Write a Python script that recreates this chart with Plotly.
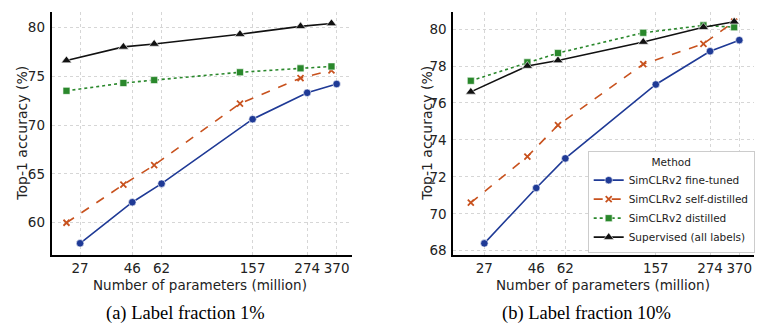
import plotly.graph_objects as go

# ---- data ----
tick_vals = [27, 46, 62, 157, 274, 370]
tick_text = ["27", "46", "62", "157", "274", "370"]
x_finetuned = [27, 46, 62, 157, 274, 370]
x_other = [23.5, 42, 57.5, 138, 256, 351]

names = ["SimCLRv2 fine-tuned", "SimCLRv2 self-distilled", "SimCLRv2 distilled", "Supervised (all labels)"]

# Label fraction 1%
a_finetuned = [57.9, 62.1, 64.0, 70.6, 73.3, 74.2]
a_selfdist = [60.0, 63.9, 65.9, 72.2, 74.8, 75.6]
a_distilled = [73.5, 74.3, 74.6, 75.4, 75.8, 76.0]
a_supervised = [76.6, 78.0, 78.3, 79.3, 80.1, 80.4]

# Label fraction 10%
b_finetuned = [68.4, 71.4, 73.0, 77.0, 78.8, 79.4]
b_selfdist = [70.6, 73.1, 74.8, 78.1, 79.2, 80.4]
b_distilled = [77.2, 78.2, 78.7, 79.8, 80.2, 80.1]
b_supervised = [76.6, 78.0, 78.3, 79.3, 80.1, 80.4]

styles = [
    dict(color="#1f3a96", dash="solid", symbol="circle", size=7.5),
    dict(color="#c8521e", dash="dash", symbol="x-thin", size=6),
    dict(color="#2a882c", dash="dot", symbol="square", size=7),
    dict(color="#111111", dash="solid", symbol="triangle-up", size=9),
]

fig = go.Figure()

def add_series(xs_list, ys_list, xa, ya, showlegend):
    for i, (xs, ys) in enumerate(zip(xs_list, ys_list)):
        st = styles[i]
        is_x = st["symbol"] == "x-thin"
        marker = dict(symbol=st["symbol"], size=st["size"], color=st["color"],
                      line=dict(width=1.8 if is_x else 1,
                                color=st["color"] if is_x else "rgba(255,255,255,0.6)"))
        fig.add_trace(go.Scatter(
            x=xs, y=ys, mode="lines+markers", name=names[i],
            line=dict(color=st["color"], width=1.6, dash=st["dash"]),
            marker=marker, xaxis=xa, yaxis=ya, showlegend=showlegend))

add_series([x_finetuned, x_other, x_other, x_other],
           [a_finetuned, a_selfdist, a_distilled, a_supervised], "x", "y", False)
add_series([x_finetuned, x_other, x_other, x_other],
           [b_finetuned, b_selfdist, b_distilled, b_supervised], "x2", "y2", True)

tickfont = dict(family="DejaVu Sans", size=13.5, color="#222222")
grid = dict(showgrid=True, gridcolor="#d6d6d6", griddash="dot", gridwidth=1)
common_x = dict(type="log", tickvals=tick_vals, ticktext=tick_text, ticks="", tickangle=0,
                showline=True, linecolor="black", linewidth=2, zeroline=False,
                tickfont=tickfont, automargin=False, **grid)
common_y = dict(ticks="", showline=True, linecolor="black", linewidth=2, zeroline=False,
                tickfont=tickfont, ticklabelstandoff=2, automargin=False, **grid)

W, H = 771, 331
ybot = (H - 255) / H
ytop = (H - 11.7) / H

fig.update_layout(
    width=W, height=H,
    margin=dict(l=0, r=0, t=0, b=0, autoexpand=False),
    paper_bgcolor="white", plot_bgcolor="white",
    xaxis=dict(domain=[51.7 / W, 351.7 / W], range=[1.3056, 2.635], anchor="y", **common_x),
    yaxis=dict(domain=[ybot, ytop], range=[56.7, 81.6], tickvals=[60, 65, 70, 75, 80],
               anchor="x", **common_y),
    xaxis2=dict(domain=[453.3 / W, 754.3 / W], range=[1.293, 2.635], anchor="y2", **common_x),
    yaxis2=dict(domain=[ybot, ytop], range=[67.77, 80.94], tickvals=[68, 70, 72, 74, 76, 78, 80],
                anchor="x2", **common_y),
    legend=dict(x=587.7 / W, y=(H - 151) / H, xanchor="left", yanchor="top",
                bgcolor="white", bordercolor="#cccccc", borderwidth=1,
                font=dict(family="DejaVu Sans", size=10.5, color="#222222"),
                title=dict(text="Method", side="top center",
                           font=dict(family="DejaVu Sans", size=10.5, color="#222222")),
                tracegroupgap=0, itemwidth=30),
    showlegend=True,
)

annos = [
    dict(text="Number of parameters (million)", x=200 / W, y=(H - 285) / H, font_size=13.5, angle=0),
    dict(text="Number of parameters (million)", x=603 / W, y=(H - 285) / H, font_size=13.5, angle=0),
    dict(text="Top-1 accuracy (%)", x=21.7 / W, y=(H - 133) / H, font_size=14, angle=-90),
    dict(text="Top-1 accuracy (%)", x=426.7 / W, y=(H - 133) / H, font_size=14, angle=-90),
]
for a in annos:
    fig.add_annotation(xref="paper", yref="paper", x=a["x"], y=a["y"], text=a["text"],
                       showarrow=False, xanchor="center", yanchor="middle",
                       textangle=a["angle"],
                       font=dict(family="DejaVu Sans", size=a["font_size"], color="#222222"))

for txt, cx in [("(a) Label fraction 1%", 185), ("(b) Label fraction 10%", 586.7)]:
    fig.add_annotation(xref="paper", yref="paper", x=cx / W, y=(H - 313) / H, text=txt,
                       showarrow=False, xanchor="center", yanchor="middle",
                       font=dict(family="Liberation Serif", size=18.5, color="black"))

fig.write_html("out.html")
